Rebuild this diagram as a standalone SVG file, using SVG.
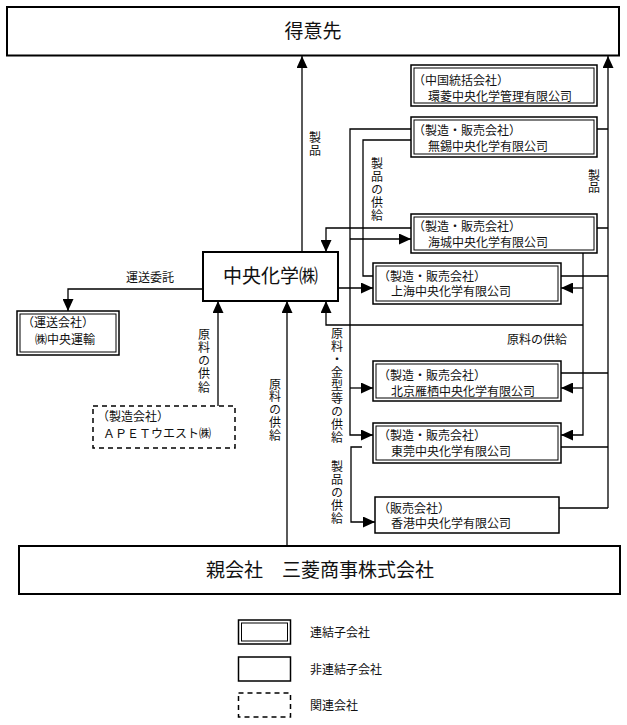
<svg xmlns="http://www.w3.org/2000/svg" width="627" height="725" viewBox="0 0 627 725">
<style>
text{font-family:"Noto Sans CJK JP","Noto Sans",sans-serif;fill:#111}
.s{font-size:12px}
.v{font-size:12px;writing-mode:vertical-rl;text-orientation:upright}
.b{font-size:19px}
.box{fill:#fff;stroke:#000;stroke-width:2}
.o{fill:#fff;stroke:#000;stroke-width:1.5}
.i{fill:none;stroke:#000;stroke-width:1}
.d{fill:#fff;stroke:#000;stroke-width:1.5;stroke-dasharray:5 4}
.c{fill:none;stroke:#000;stroke-width:1.3}
.a{marker-end:url(#ah)}
</style>
<defs>
<marker id="ah" markerUnits="userSpaceOnUse" markerWidth="12" markerHeight="11" refX="12" refY="5.5" orient="auto">
<path d="M0,0 L12,5.5 L0,11 z" fill="#000"/>
</marker>
</defs>
<g id="connectors">
<path class="c a" d="M302,252 V56"/>
<path class="c a" d="M608,508 V56"/>
<path class="c" d="M597,129 H608 M597,228 H608 M561,276 H608 M561,373 H608 M561,447 H608 M559,508 H608"/>
<path class="c a" d="M203,289 H68 V311"/>
<path class="c a" d="M218,406 V301"/>
<path class="c a" d="M287,546 V301"/>
<path class="c a" d="M338,288 H373"/>
<path class="c a" d="M411,129 H350 V435 H373"/>
<path class="c a" d="M350,239 H411"/>
<path class="c a" d="M350,388 H373"/>
<path class="c" d="M411,140 H363 V276 H373"/>
<path class="c a" d="M411,228 H326 V252"/>
<path class="c a" d="M583,253 V435 H561"/>
<path class="c a" d="M583,288 H561"/>
<path class="c a" d="M583,388 H561"/>
<path class="c a" d="M583,325 H326 V301"/>
<path class="c a" d="M362,447 H351 V522 H375"/>
</g>
<g id="labels">
<text class="v" x="315" y="131.5" letter-spacing="0.5">製品</text>
<text class="v" x="377" y="157.6" letter-spacing="0.85">製品の供給</text>
<text class="v" x="594" y="169" letter-spacing="0">製品</text>
<text class="s" x="150" y="282" text-anchor="middle">運送委託</text>
<text class="v" x="204" y="328" letter-spacing="1.3">原料の供給</text>
<text class="v" x="275" y="378" letter-spacing="0.8">原料の供給</text>
<text class="v" x="337" y="327" letter-spacing="1">原料・金型等の供給</text>
<text class="v" x="337" y="460.7" letter-spacing="1">製品の供給</text>
<text class="s" x="537" y="344" text-anchor="middle">原料の供給</text>
</g>
<g id="tokuisaki">
<rect class="box" x="7" y="7" width="612" height="48.5"/>
<text class="b" x="313" y="38" text-anchor="middle">得意先</text>
</g>
<g id="kanryo">
<rect class="o" x="411" y="65" width="186" height="41"/>
<rect class="i" x="414" y="68" width="180" height="35"/>
<text class="s" x="413" y="84.5">（中国統括会社）</text>
<text class="s" x="428" y="101">環菱中央化学管理有限公司</text>
</g>
<g id="wuxi">
<rect class="o" x="411" y="117" width="186" height="40"/>
<rect class="i" x="414" y="120" width="180" height="34"/>
<text class="s" x="413" y="134.5">（製造・販売会社）</text>
<text class="s" x="428" y="150.5">無錫中央化学有限公司</text>
</g>
<g id="haicheng">
<rect class="o" x="411" y="214" width="186" height="39"/>
<rect class="i" x="414" y="217" width="180" height="33"/>
<text class="s" x="413" y="231">（製造・販売会社）</text>
<text class="s" x="428" y="247">海城中央化学有限公司</text>
</g>
<g id="chuo">
<rect class="box" x="203" y="252" width="135" height="49"/>
<text class="b" x="270.5" y="283" text-anchor="middle">中央化学㈱</text>
</g>
<g id="shanghai">
<rect class="o" x="373" y="263" width="188" height="41"/>
<rect class="i" x="376" y="266" width="182" height="35"/>
<text class="s" x="378" y="280.5">（製造・販売会社）</text>
<text class="s" x="391" y="296">上海中央化学有限公司</text>
</g>
<g id="unyu">
<rect class="o" x="17" y="311" width="102" height="44"/>
<rect class="i" x="20" y="314" width="96" height="38"/>
<text class="s" x="22" y="327">（運送会社）</text>
<text class="s" x="35" y="343.5">㈱中央運輸</text>
</g>
<g id="beijing">
<rect class="o" x="373" y="361" width="188" height="40"/>
<rect class="i" x="376" y="364" width="182" height="34"/>
<text class="s" x="378" y="379.5">（製造・販売会社）</text>
<text class="s" x="391" y="395.5">北京雁栖中央化学有限公司</text>
</g>
<g id="apet">
<rect class="d" x="93" y="406" width="142" height="42"/>
<text class="s" x="97" y="421">（製造会社）</text>
<text class="s" x="103" y="437.5">ＡＰＥＴウエスト㈱</text>
</g>
<g id="dongguan">
<rect class="o" x="373" y="423" width="188" height="40"/>
<rect class="i" x="376" y="426" width="182" height="34"/>
<text class="s" x="378" y="439.5">（製造・販売会社）</text>
<text class="s" x="391" y="456">東莞中央化学有限公司</text>
</g>
<g id="hongkong">
<rect class="o" x="375" y="497" width="184" height="36"/>
<text class="s" x="378" y="512.5">（販売会社）</text>
<text class="s" x="391" y="527.5">香港中央化学有限公司</text>
</g>
<g id="mitsubishi">
<rect class="box" x="19" y="546" width="601" height="48"/>
<text class="b" x="320" y="577" text-anchor="middle">親会社　三菱商事株式会社</text>
</g>
<g id="legend">
<rect class="o" x="238.5" y="620" width="52" height="24"/>
<rect class="i" x="241.5" y="623" width="46" height="18"/>
<text class="s" x="310" y="637">連結子会社</text>
<rect class="o" x="238.5" y="657" width="52" height="24"/>
<text class="s" x="310" y="674">非連結子会社</text>
<rect class="d" x="238.5" y="693" width="52" height="24"/>
<text class="s" x="310" y="710">関連会社</text>
</g>
</svg>
